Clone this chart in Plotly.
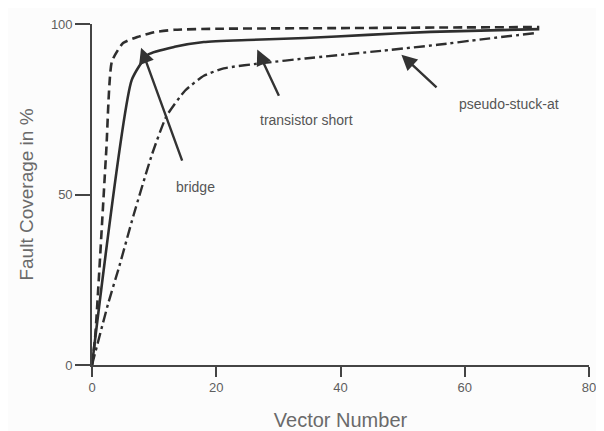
import plotly.graph_objects as go

# Data (Vector Number vs Fault Coverage in %)
bridge_x = [0, 0.5, 2.3, 3.2, 5, 7.3, 10, 13.3, 20, 40, 60, 72]
bridge_y = [0, 8, 63, 89, 94.4, 96.2, 97.6, 98.3, 98.6, 98.8, 99, 99.1]

trans_x = [0, 6.4, 9, 13.3, 18, 25, 34.3, 44.4, 54.5, 72]
trans_y = [0, 83.6, 91, 93.3, 94.7, 95.3, 95.9, 96.8, 97.7, 98.5]

pseudo_x = [0, 2.6, 4.4, 6.7, 9.7, 12, 15, 18, 21.2, 27.8, 34.3, 46.9, 55.6, 62.7, 71.7]
pseudo_y = [0, 18, 29, 44, 62, 73, 80.5, 84.8, 87, 88.6, 89.9, 92.2, 93.9, 95.5, 97.4]

x_ticks = [0, 20, 40, 60, 80]
y_ticks = [0, 50, 100]

ink = "#2e2e2e"
grey = "#5e5e5e"
font_family = "Liberation Sans, Arial, sans-serif"

fig = go.Figure()
fig.add_trace(go.Scatter(x=bridge_x, y=bridge_y, mode="lines", name="bridge",
                         line=dict(color=ink, width=2.6, dash="9px,5px", shape="spline", smoothing=0.5)))
fig.add_trace(go.Scatter(x=trans_x, y=trans_y, mode="lines", name="transistor short",
                         line=dict(color=ink, width=2.6, shape="spline", smoothing=0.5)))
fig.add_trace(go.Scatter(x=pseudo_x, y=pseudo_y, mode="lines", name="pseudo-stuck-at",
                         line=dict(color=ink, width=2.4, dash="11px,4px,3px,4px", shape="spline", smoothing=0.5)))

# curve labels
labels = [
    ("bridge", 16.7, 52.2),
    ("transistor short", 34.6, 71.8),
    ("pseudo-stuck-at", 67.2, 76.5),
]
for t, x, y in labels:
    fig.add_annotation(x=x, y=y, text=t, showarrow=False,
                       font=dict(size=14, color="#555555", family=font_family))

# arrows (tip x, tip y, tail x, tail y)
arrows = [
    (7.9, 93, 14.6, 59.5),
    (26.6, 92.5, 30.2, 78.5),
    (49.8, 91, 55.7, 81),
]
for x, y, ax, ay in arrows:
    fig.add_annotation(x=x, y=y, ax=ax, ay=ay, xref="x", yref="y", axref="x", ayref="y",
                       text="", showarrow=True, arrowhead=2, arrowsize=1.3, arrowwidth=2.4,
                       arrowcolor="#333333")

# the page body has an 8px margin, so the figure is 8px smaller than the window
fig.update_layout(
    width=596, height=423,
    margin=dict(l=84, r=15, t=16, b=66),
    paper_bgcolor="#fcfcfc", plot_bgcolor="#fcfcfc",
    showlegend=False,
    font=dict(family=font_family, color=grey),
)
fig.update_xaxes(range=[0, 80], tickvals=x_ticks, showgrid=False, zeroline=False,
                 showline=True, linecolor="#444444", linewidth=1.6,
                 ticks="outside", ticklen=10, tickwidth=1.6, tickcolor="#444444",
                 tickfont=dict(size=13, color=grey), automargin=False,
                 ticklabeloverflow="allow",
                 title=dict(text="Vector Number", font=dict(size=20, color="#6a6a6a"), standoff=19))
fig.update_yaxes(range=[0, 100], tickvals=y_ticks, showgrid=False, zeroline=False,
                 showline=True, linecolor="#444444", linewidth=1.6,
                 ticks="outside", ticklen=15, tickwidth=1.6, tickcolor="#444444",
                 tickfont=dict(size=13, color=grey), automargin=False,
                 title=dict(text="Fault Coverage in %", font=dict(size=19, color="#6a6a6a"), standoff=12))

fig.write_html("out.html")
